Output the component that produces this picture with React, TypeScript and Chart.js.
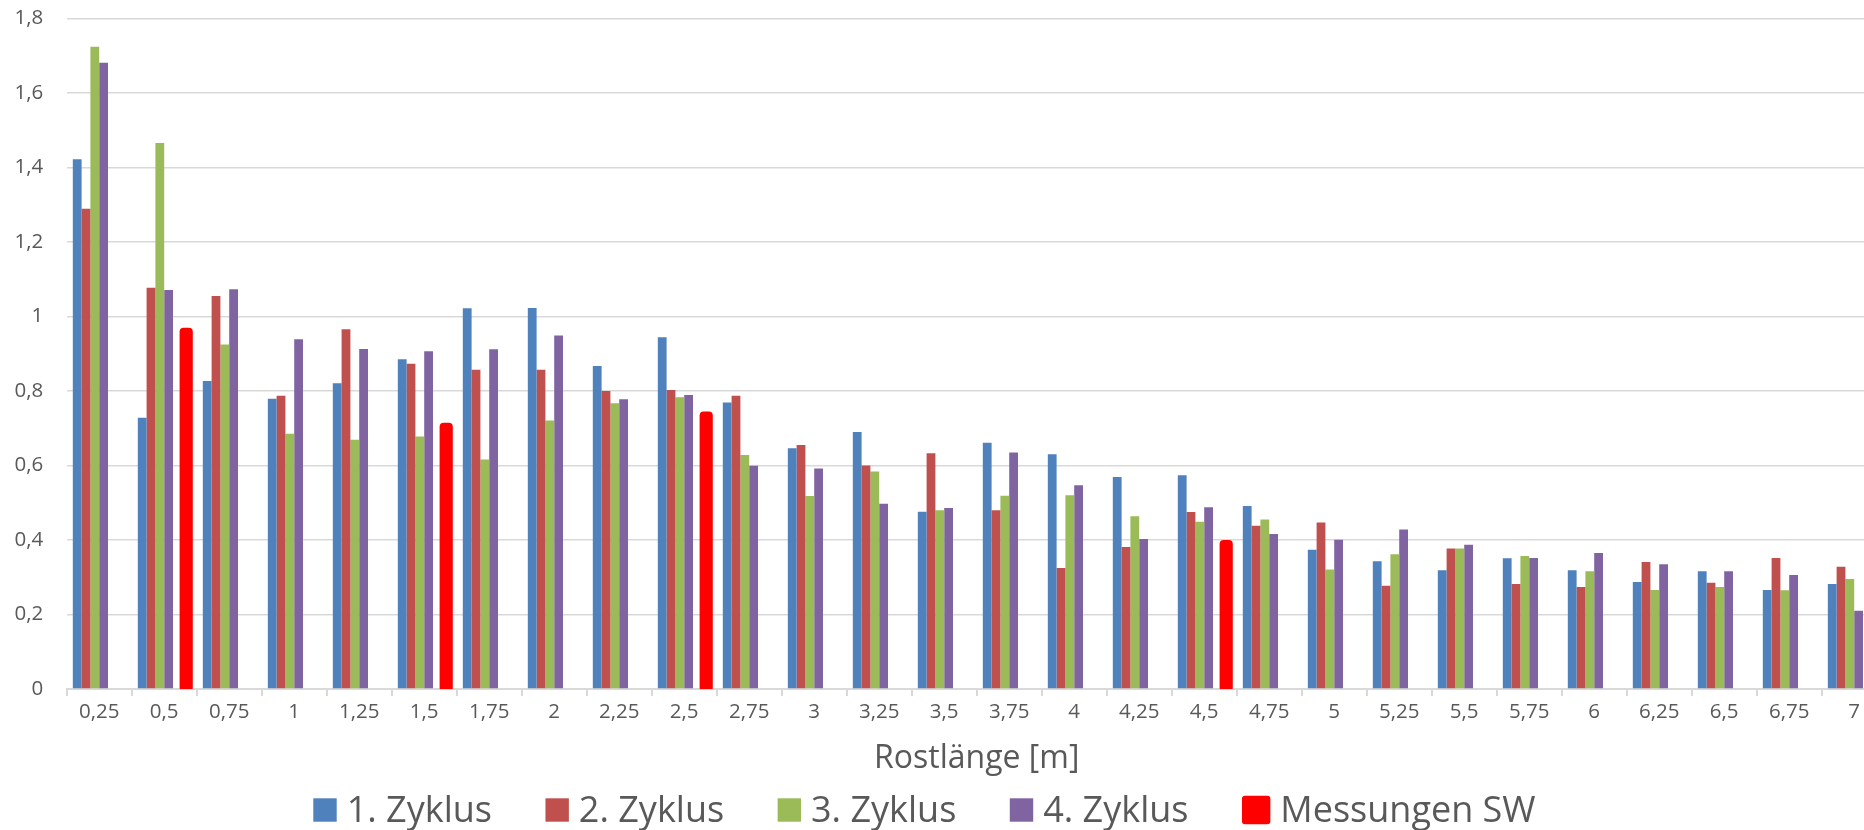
import React, { useEffect, useRef } from 'react';
import { Chart, registerables } from 'chart.js';

Chart.register(...registerables);

// Rostlängen (Kategorien der x-Achse)
const categories = [
  '0,25', '0,5', '0,75', '1', '1,25', '1,5', '1,75', '2', '2,25', '2,5',
  '2,75', '3', '3,25', '3,5', '3,75', '4', '4,25', '4,5', '4,75', '5',
  '5,25', '5,5', '5,75', '6', '6,25', '6,5', '6,75', '7',
];

const yTickLabels = ['0', '0,2', '0,4', '0,6', '0,8', '1', '1,2', '1,4', '1,6', '1,8'];

const zyklus1 = [
  1.422, 0.728, 0.827, 0.779, 0.821, 0.885, 1.022, 1.023, 0.867, 0.944,
  0.769, 0.646, 0.690, 0.476, 0.661, 0.630, 0.569, 0.574, 0.491, 0.374,
  0.343, 0.319, 0.351, 0.319, 0.287, 0.316, 0.266, 0.282,
];
const zyklus2 = [
  1.289, 1.077, 1.055, 0.787, 0.966, 0.873, 0.857, 0.857, 0.800, 0.803,
  0.787, 0.655, 0.600, 0.633, 0.480, 0.325, 0.381, 0.475, 0.438, 0.447,
  0.277, 0.377, 0.282, 0.274, 0.341, 0.285, 0.352, 0.328,
];
const zyklus3 = [
  1.724, 1.466, 0.925, 0.685, 0.669, 0.678, 0.616, 0.721, 0.767, 0.783,
  0.628, 0.518, 0.584, 0.480, 0.519, 0.520, 0.464, 0.449, 0.455, 0.321,
  0.362, 0.377, 0.357, 0.316, 0.266, 0.274, 0.265, 0.295,
];
const zyklus4 = [
  1.681, 1.071, 1.073, 0.939, 0.913, 0.907, 0.912, 0.949, 0.778, 0.789,
  0.599, 0.592, 0.497, 0.486, 0.635, 0.547, 0.403, 0.488, 0.416, 0.401,
  0.428, 0.387, 0.352, 0.365, 0.335, 0.316, 0.306, 0.210,
];
// Reserve-Reihe ohne Werte (hält den Platz vor den Messungen frei)
const reserve: (number | null)[] = [
  null, null, null, null, null, null, null, null, null, null,
  null, null, null, null, null, null, null, null, null, null,
  null, null, null, null, null, null, null, null,
];
const messungenSW: (number | null)[] = [
  null, 0.97, null, null, null, 0.715, null, null, null, 0.745,
  null, null, null, null, null, null, null, 0.40, null, null,
  null, null, null, null, null, null, null, null,
];

const FONT = "'Open Sans', sans-serif";
const TEXT = '#595959';
const GRID = '#D9D9D9';

// Legende unter der Achse, selbst gezeichnet
const bottomLegend = {
  id: 'bottomLegend',
  afterDraw(chart: any) {
    const ctx: CanvasRenderingContext2D = chart.ctx;
    ctx.save();
    ctx.font = `36px ${FONT}`;
    ctx.textBaseline = 'alphabetic';
    const box = 23.4;
    const boxTop = 798.3;
    let x = 313.3;
    chart.data.datasets.forEach((ds: any) => {
      if (!ds.label) return;
      ctx.fillStyle = ds.backgroundColor;
      let tx = x + box + 10;
      if (ds.label === 'Messungen SW') {
        ctx.beginPath();
        ctx.roundRect(x, boxTop - 2.5, box + 5, box + 5, 3);
        ctx.fill();
        tx += 5;
      } else {
        ctx.fillRect(x, boxTop, box, box);
      }
      ctx.fillStyle = TEXT;
      ctx.fillText(ds.label, tx, 822);
      x = tx + ctx.measureText(ds.label).width + 53.5;
    });
    ctx.restore();
  },
};

export default function App() {
  const canvasRef = useRef<HTMLCanvasElement | null>(null);

  useEffect(() => {
    const canvas = canvasRef.current;
    if (!canvas) return;
    const chart = new Chart(canvas, {
      type: 'bar',
      data: {
        labels: categories,
        datasets: [
          { label: '1. Zyklus', data: zyklus1, backgroundColor: '#4F81BD' },
          { label: '2. Zyklus', data: zyklus2, backgroundColor: '#C0504D' },
          { label: '3. Zyklus', data: zyklus3, backgroundColor: '#9BBB59' },
          { label: '4. Zyklus', data: zyklus4, backgroundColor: '#8064A2' },
          { label: '', data: reserve, backgroundColor: 'rgba(0,0,0,0)' },
          {
            label: 'Messungen SW',
            data: messungenSW,
            backgroundColor: '#FF0000',
            barPercentage: 1.5,
            borderRadius: 4,
            borderSkipped: false,
            base: -0.007,
          } as any,
        ],
      },
      options: {
        animation: false,
        responsive: false,
        devicePixelRatio: 1,
        layout: { padding: { left: 0, right: 13.3, top: 18.5, bottom: 52 } },
        datasets: { bar: { categoryPercentage: 0.812, barPercentage: 1 } },
        plugins: { legend: { display: false }, tooltip: { enabled: false } },
        scales: {
          x: {
            offset: true,
            grid: {
              offset: true,
              drawOnChartArea: false,
              drawTicks: true,
              tickLength: 7,
              color: GRID,
              lineWidth: 2,
            },
            border: { color: GRID, width: 2 },
            ticks: {
              font: { family: FONT, size: 20.5 },
              color: TEXT,
              padding: 4,
              maxRotation: 0,
              autoSkip: false,
            },
            title: {
              display: true,
              text: 'Rostlänge [m]',
              font: { family: FONT, size: 32 },
              color: TEXT,
              padding: 0,
            },
            afterFit(scale: any) {
              scale.height = 89;
            },
          },
          y: {
            min: 0,
            max: 1.8,
            ticks: {
              stepSize: 0.2,
              padding: 23.4,
              font: { family: FONT, size: 20.5 },
              color: TEXT,
              callback: (_v: any, i: number) => yTickLabels[i],
            },
            grid: { color: GRID, lineWidth: 1.5, drawTicks: false },
            border: { display: false },
            afterFit(scale: any) {
              scale.width = 66.7;
              scale.paddingTop = 0;
              scale.paddingBottom = 0;
            },
          },
        },
      },
      plugins: [bottomLegend],
    });
    return () => chart.destroy();
  }, []);

  return (
    <div
      style={{
        position: 'absolute',
        left: 0,
        top: 0,
        width: 1864,
        height: 830,
        overflow: 'hidden',
        background: '#ffffff',
      }}
    >
      <canvas ref={canvasRef} width={1900} height={830} style={{ display: 'block' }} />
    </div>
  );
}
